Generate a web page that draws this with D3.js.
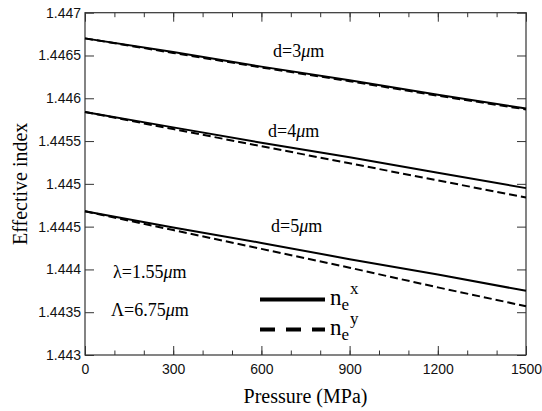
<!DOCTYPE html>
<html>
<head>
<meta charset="utf-8">
<script src="https://cdn.jsdelivr.net/npm/d3@7"></script>
<style>
  html, body { margin: 0; padding: 0; background: #fff; }
  svg { display: block; }
  .serif { font-family: "Liberation Serif", "Times New Roman", Times, "Nimbus Roman", "DejaVu Serif", serif; }
  .sans { font-family: "Liberation Sans", Arimo, Helvetica, Arial, "Nimbus Sans", "DejaVu Sans", sans-serif; }
</style>
</head>
<body>
<svg id="chart" width="542" height="411"></svg>
<script>
// Applied pressure (MPa)
const pressure = [0, 300, 600, 900, 1200, 1500];

// Effective index of the x- and y-polarised modes for each core spacing d
const d3x = [1.44670, 1.44654, 1.44637, 1.44621, 1.44604, 1.44588];
const d3y = [1.44670, 1.44653, 1.44636, 1.44620, 1.44603, 1.44587];
const d4x = [1.44584, 1.44566, 1.44548, 1.44531, 1.44513, 1.44495];
const d4y = [1.44584, 1.44564, 1.44544, 1.44524, 1.44504, 1.44484];
const d5x = [1.44468, 1.44449, 1.44431, 1.44412, 1.44394, 1.44375];
const d5y = [1.44468, 1.44446, 1.44424, 1.44402, 1.44379, 1.44357];

const xTicks = [0, 300, 600, 900, 1200, 1500];
const xMinorTicks = [0, 100, 200, 300, 400, 500, 600, 700, 800, 900, 1000, 1100, 1200, 1300, 1400, 1500];
const yTicks = [1.443, 1.4435, 1.444, 1.4445, 1.445, 1.4455, 1.446, 1.4465, 1.447];
const yTickLabels = ["1.443", "1.4435", "1.444", "1.4445", "1.445", "1.4455", "1.446", "1.4465", "1.447"];

const svg = d3.select("#chart");
const pLeft = 85, pRight = 526, pTop = 12.7, pBottom = 355;

const x = d3.scaleLinear().domain([0, 1500]).range([pLeft, pRight]);
const y = d3.scaleLinear().domain([1.443, 1.447]).range([pBottom, pTop]);

const axisColor = "#333";

// Tick marks point into the plot on all four sides
function styleAxis(g) {
  g.select(".domain").remove();
  g.attr("font-family", null).attr("font-size", null);
  g.selectAll(".tick line").attr("stroke", axisColor).attr("stroke-width", 1);
  g.selectAll(".tick text").attr("fill", "#111").attr("class", "sans").style("font-size", "14px");
}

// minor x ticks (bottom and top)
svg.append("g").attr("transform", `translate(0,${pBottom})`)
  .call(d3.axisBottom(x).tickValues(xMinorTicks).tickSize(-4.5).tickFormat(""))
  .call(styleAxis);
svg.append("g").attr("transform", `translate(0,${pTop})`)
  .call(d3.axisTop(x).tickValues(xMinorTicks).tickSize(-4.5).tickFormat(""))
  .call(styleAxis);

// major x ticks with labels
svg.append("g").attr("transform", `translate(0,${pBottom})`)
  .call(d3.axisBottom(x).tickValues(xTicks).tickSize(-9).tickFormat(d3.format("d")))
  .call(styleAxis)
  .call(g => g.selectAll(".tick text").attr("dy", "0.71em").attr("y", 9));
svg.append("g").attr("transform", `translate(0,${pTop})`)
  .call(d3.axisTop(x).tickValues(xTicks).tickSize(-9).tickFormat(""))
  .call(styleAxis);

// y ticks (left with labels, right mirrored)
svg.append("g").attr("transform", `translate(${pLeft},0)`)
  .call(d3.axisLeft(y).tickValues(yTicks).tickSize(-9).tickFormat((d, i) => yTickLabels[i]))
  .call(styleAxis)
  .call(g => g.selectAll(".tick text").attr("x", -4));
svg.append("g").attr("transform", `translate(${pRight},0)`)
  .call(d3.axisRight(y).tickValues(yTicks).tickSize(-9).tickFormat(""))
  .call(styleAxis);

// frame
svg.append("rect")
  .attr("x", pLeft).attr("y", pTop)
  .attr("width", pRight - pLeft).attr("height", pBottom - pTop)
  .attr("fill", "none").attr("stroke", axisColor).attr("stroke-width", 1.2);

// curves
const line = d3.line().x((d, i) => x(pressure[i])).y(d => y(d));
const series = [
  { v: d3x, dash: null }, { v: d3y, dash: "8,4" },
  { v: d4x, dash: null }, { v: d4y, dash: "8,4" },
  { v: d5x, dash: null }, { v: d5y, dash: "8,4" }
];
series.forEach(s => {
  svg.append("path")
    .datum(s.v)
    .attr("d", line)
    .attr("fill", "none")
    .attr("stroke", "#000")
    .attr("stroke-width", 2)
    .attr("stroke-dasharray", s.dash);
});

// helper for "…μm" labels with an italic mu
function muLabel(px, py, prefix, size) {
  const t = svg.append("text")
    .attr("class", "serif")
    .attr("x", px).attr("y", py)
    .style("font-size", size + "px").attr("fill", "#000");
  t.append("tspan").text(prefix);
  t.append("tspan").style("font-style", "italic").text("μ");
  t.append("tspan").text("m");
  return t;
}

muLabel(273, 57, "d=3", 18);
muLabel(268, 137, "d=4", 18);
muLabel(271, 232, "d=5", 18);
muLabel(113, 278, "λ=1.55", 18);
muLabel(111, 316, "Λ=6.75", 18);

// legend
svg.append("line").attr("x1", 260).attr("x2", 325).attr("y1", 299.5).attr("y2", 299.5)
  .attr("stroke", "#000").attr("stroke-width", 4);
svg.append("line").attr("x1", 260).attr("x2", 325).attr("y1", 329.5).attr("y2", 329.5)
  .attr("stroke", "#000").attr("stroke-width", 4).attr("stroke-dasharray", "15,11");

function legendLabel(px, py, sup) {
  const t = svg.append("text").attr("class", "serif").attr("x", px).attr("y", py)
    .style("font-size", "23px").attr("fill", "#000");
  t.append("tspan").text("n");
  t.append("tspan").attr("dy", 5).style("font-size", "17px").text("e");
  t.append("tspan").attr("dy", -16).attr("dx", 1).style("font-size", "17px").text(sup);
}
legendLabel(330, 305, "x");
legendLabel(330, 335, "y");

// axis titles
svg.append("text")
  .attr("class", "serif")
  .attr("x", (pLeft + pRight) / 2).attr("y", 403)
  .attr("text-anchor", "middle")
  .style("font-size", "20px")
  .text("Pressure (MPa)");

svg.append("text")
  .attr("class", "serif")
  .attr("transform", `translate(27,${(pTop + pBottom) / 2}) rotate(-90)`)
  .attr("text-anchor", "middle")
  .style("font-size", "20px")
  .text("Effective index");
</script>
</body>
</html>
